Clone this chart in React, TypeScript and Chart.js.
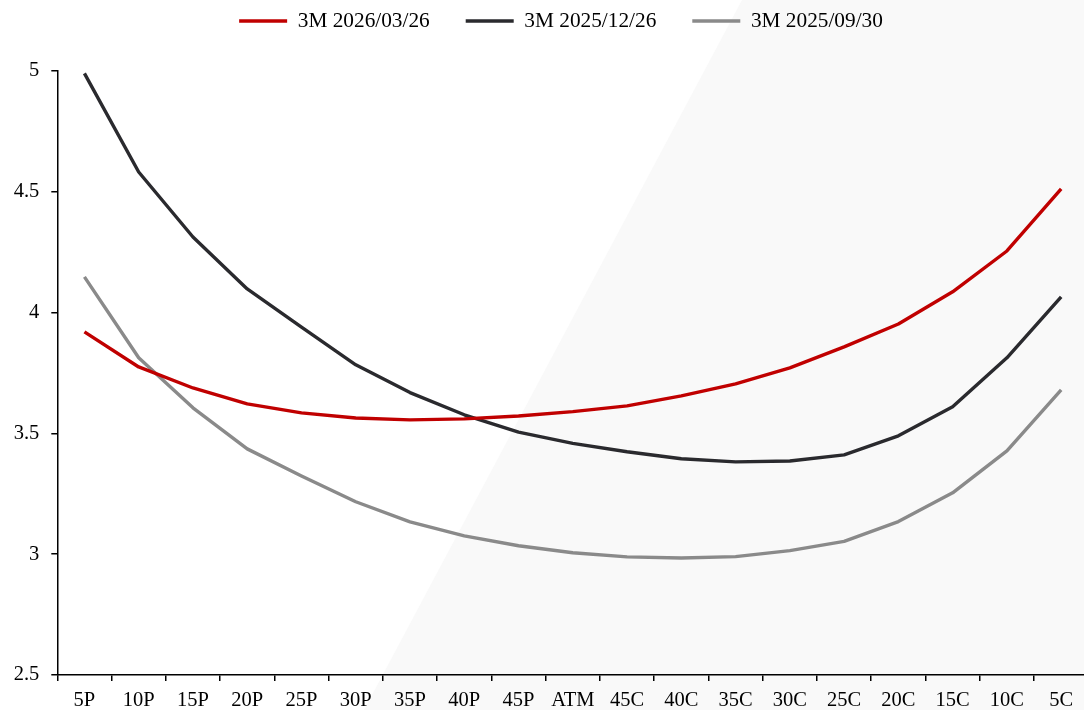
import React, { useEffect, useRef } from "react";
import { Chart, registerables } from "chart.js";

Chart.register(...registerables);

const categories = ["5P", "10P", "15P", "20P", "25P", "30P", "35P", "40P", "45P", "ATM", "45C", "40C", "35C", "30C", "25C", "20C", "15C", "10C", "5C"];

const labelMar26 = "3M 2026/03/26";
const valuesMar26 = [3.92, 3.775, 3.688, 3.622, 3.585, 3.564, 3.556, 3.56, 3.572, 3.59, 3.614, 3.655, 3.705, 3.771, 3.858, 3.953, 4.086, 4.255, 4.512];

const labelDec26 = "3M 2025/12/26";
const valuesDec26 = [4.99, 4.582, 4.313, 4.098, 3.94, 3.784, 3.669, 3.577, 3.505, 3.459, 3.424, 3.395, 3.382, 3.386, 3.411, 3.49, 3.61, 3.813, 4.065];

const labelSep30 = "3M 2025/09/30";
const valuesSep30 = [4.148, 3.813, 3.606, 3.436, 3.324, 3.217, 3.134, 3.076, 3.035, 3.006, 2.989, 2.984, 2.99, 3.015, 3.053, 3.135, 3.254, 3.428, 3.68];

const yMin = 2.5;
const yMax = 5;
const yStep = 0.5;

const W = 1122;
const H = 710;
const AXIS_LEFT = 57.3;
const RIGHT_SPACER = 33.7;
const FONT = "'Liberation Serif', 'Times New Roman', serif";

const bgShade = {
  id: "bgShade",
  beforeDraw(chart: any) {
    const { ctx } = chart;
    ctx.save();
    ctx.fillStyle = "#ffffff";
    ctx.fillRect(0, 0, W, H);
    ctx.fillStyle = "#f9f9f9";
    ctx.beginPath();
    ctx.moveTo(742, 0);
    ctx.lineTo(W, 0);
    ctx.lineTo(W, H);
    ctx.lineTo(364, H);
    ctx.closePath();
    ctx.fill();
    ctx.restore();
  },
};

export default function App() {
  const ref = useRef<HTMLCanvasElement>(null);

  useEffect(() => {
    if (!ref.current) return;
    const mk = (label: string, data: number[], color: string) => ({
      label,
      data,
      borderColor: color,
      backgroundColor: color,
      borderWidth: 3.4,
      borderJoinStyle: "round",
      pointRadius: 0,
      pointHoverRadius: 0,
      tension: 0,
      fill: false,
    });
    const chart = new Chart(ref.current, {
      type: "line",
      data: {
        labels: categories,
        datasets: [
          mk(labelMar26, valuesMar26, "#c00000"),
          mk(labelDec26, valuesDec26, "#2a2a2e"),
          mk(labelSep30, valuesSep30, "#8a8a8a"),
        ],
      },
      options: {
        responsive: false,
        animation: false,
        devicePixelRatio: 1,
        layout: { padding: { top: -25.65, left: 0, right: 0, bottom: 0 } },
        plugins: {
          tooltip: { enabled: false },
          title: {
            display: true,
            text: "",
            weight: 500,
            position: "top",
            padding: { top: 0, bottom: 28.35 },
            font: { size: 1, lineHeight: 1 },
          },
          subtitle: {
            display: true,
            text: "",
            position: "right",
            padding: { top: 0, bottom: RIGHT_SPACER - 1 },
            font: { size: 1, lineHeight: 1 },
          },
          legend: {
            display: true,
            position: "top",
            align: "center",
            labels: {
              boxWidth: 48,
              boxHeight: 3.5,
              padding: 36,
              color: "#000000",
              font: { family: FONT, size: 21.3 },
              generateLabels(c: any) {
                const items = (Chart.defaults as any).plugins.legend.labels.generateLabels(c);
                return items.map((it: any) => ({ ...it, lineWidth: 0 }));
              },
            },
          },
        },
        scales: {
          x: {
            type: "category",
            offset: true,
            grid: {
              display: true,
              drawOnChartArea: false,
              drawTicks: true,
              tickLength: 6,
              offset: true,
              color: "#000000",
              lineWidth: 1.5,
            },
            border: { display: true, color: "#000000", width: 1.5 },
            ticks: {
              color: "#000000",
              font: { family: FONT, size: 20.5 },
              padding: 7,
              maxRotation: 0,
              autoSkip: false,
            },
            afterFit: (s: any) => {
              s.height = 35;
            },
          },
          y: {
            min: yMin,
            max: yMax,
            grid: {
              display: true,
              drawOnChartArea: false,
              drawTicks: true,
              tickLength: 6,
              color: "#000000",
              lineWidth: 1.5,
            },
            border: { display: true, color: "#000000", width: 1.5 },
            ticks: {
              stepSize: yStep,
              color: "#000000",
              font: { family: FONT, size: 20.5 },
              padding: 12,
              callback: (v: any) => String(Number(v)),
            },
            afterFit: (s: any) => {
              s.width = AXIS_LEFT;
            },
          },
        },
      },
      plugins: [bgShade],
    } as any);
    return () => chart.destroy();
  }, []);

  return (
    <div
      style={{
        position: "fixed",
        left: 0,
        top: 0,
        width: 1084,
        height: 710,
        overflow: "hidden",
        background: "#ffffff",
      }}
    >
      <canvas ref={ref} width={W} height={H} style={{ display: "block", width: W, height: H }} />
    </div>
  );
}
